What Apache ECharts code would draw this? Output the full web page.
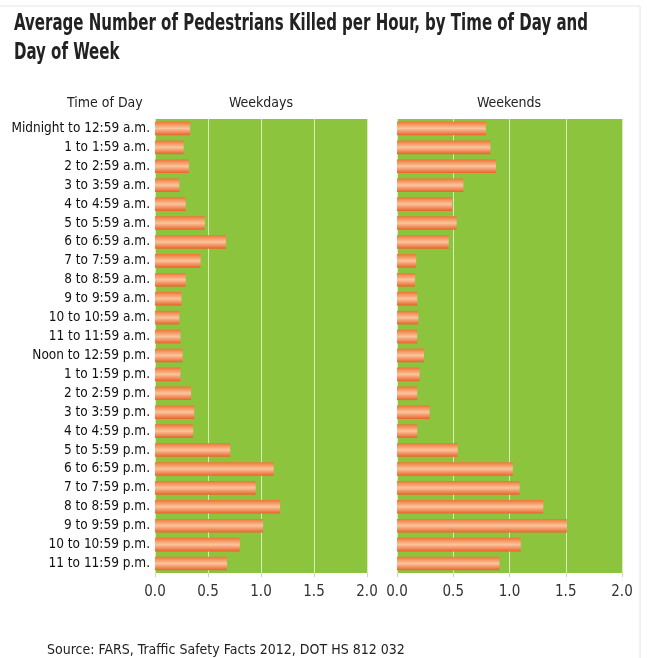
<!DOCTYPE html>
<html>
<head>
<meta charset="utf-8">
<script src="https://cdn.jsdelivr.net/npm/echarts@6/dist/echarts.min.js"></script>
<style>
  html, body { margin: 0; padding: 0; background: #fff; }
  #chart { width: 647px; height: 658px; }
</style>
</head>
<body>
<div id="chart"></div>
<script>
var horas = ['Midnight to 12:59 a.m.', '1 to 1:59 a.m.', '2 to 2:59 a.m.', '3 to 3:59 a.m.', '4 to 4:59 a.m.',
    '5 to 5:59 a.m.', '6 to 6:59 a.m.', '7 to 7:59 a.m.', '8 to 8:59 a.m.', '9 to 9:59 a.m.',
    '10 to 10:59 a.m.', '11 to 11:59 a.m.', 'Noon to 12:59 p.m.', '1 to 1:59 p.m.', '2 to 2:59 p.m.',
    '3 to 3:59 p.m.', '4 to 4:59 p.m.', '5 to 5:59 p.m.', '6 to 6:59 p.m.', '7 to 7:59 p.m.',
    '8 to 8:59 p.m.', '9 to 9:59 p.m.', '10 to 10:59 p.m.', '11 to 11:59 p.m.'];
var weekdays = [0.33, 0.27, 0.32, 0.23, 0.29, 0.47, 0.67, 0.43, 0.29, 0.25, 0.23, 0.24,
    0.26, 0.24, 0.34, 0.37, 0.36, 0.71, 1.12, 0.95, 1.18, 1.02, 0.80, 0.68];
var weekends = [0.79, 0.83, 0.88, 0.59, 0.49, 0.53, 0.46, 0.17, 0.16, 0.18, 0.19, 0.18,
    0.24, 0.20, 0.18, 0.29, 0.18, 0.54, 1.03, 1.09, 1.30, 1.51, 1.10, 0.91];
var ticksX = [0, 0.5, 1, 1.5, 2];

var titulo1 = 'Average Number of Pedestrians Killed per Hour, by Time of Day and';
var titulo2 = 'Day of Week';
var fuente = '"Liberation Sans Narrow", "DejaVu Sans Condensed", "Roboto Condensed", "Liberation Sans", sans-serif';

// ancho del titulo para comprimirlo como la fuente condensada del original
var cv = document.createElement('canvas').getContext('2d');
cv.font = 'bold 23px ' + fuente;
var escala = 574 / cv.measureText(titulo1).width;

var barra = {
    type: 'linear', x: 0, y: 0, x2: 0, y2: 1,
    colorStops: [
        {offset: 0, color: '#ee7535'},
        {offset: 0.5, color: '#fbc49c'},
        {offset: 1, color: '#e8622a'}
    ]
};

function ejeX(idx) {
    return {
        type: 'value', gridIndex: idx, min: 0, max: 2, interval: 0.5,
        axisLine: {show: false},
        axisTick: {show: true, length: 4, lineStyle: {color: '#c8d8b0'}},
        splitLine: {show: true, lineStyle: {color: '#d8ecb8', width: 1}},
        axisLabel: {
            color: '#333', fontSize: 15, fontFamily: fuente, margin: 12,
            formatter: function (v) { return v.toFixed(1); }
        }
    };
}

function ejeY(idx, mostrar) {
    return {
        type: 'category', gridIndex: idx, data: horas, inverse: true,
        axisLine: {show: false}, axisTick: {show: false},
        axisLabel: {show: mostrar, color: '#111', fontSize: 13.5, fontFamily: fuente, margin: 5}
    };
}

function serie(idx, datos) {
    return {
        type: 'bar', xAxisIndex: idx, yAxisIndex: idx, data: datos,
        barCategoryGap: '28%',
        itemStyle: {color: barra},
        silent: true
    };
}

function texto(t, x, y, tam, peso, alin) {
    return {
        type: 'text', x: x, y: y,
        style: {text: t, fill: '#222', font: peso + ' ' + tam + 'px ' + fuente, textAlign: alin || 'left', textVerticalAlign: 'middle'}
    };
}

var chart = echarts.init(document.getElementById('chart'));
chart.setOption({
    animation: false,
    backgroundColor: '#fff',
    grid: [
        {left: 155, width: 212, top: 119, height: 454, show: true, backgroundColor: '#8cc43e', borderWidth: 0},
        {left: 397, width: 225, top: 119, height: 454, show: true, backgroundColor: '#8cc43e', borderWidth: 0}
    ],
    xAxis: [ejeX(0), ejeX(1)],
    yAxis: [ejeY(0, true), ejeY(1, false)],
    series: [serie(0, weekdays), serie(1, weekends)],
    graphic: [
        {type: 'line', shape: {x1: 0, y1: 6, x2: 640, y2: 6}, style: {stroke: '#e4e4e4', lineWidth: 1}},
        {type: 'line', shape: {x1: 640, y1: 6, x2: 640, y2: 658}, style: {stroke: '#e4e4e4', lineWidth: 1}},
        {type: 'group', x: 14, y: 0, scaleX: escala, children: [
            texto(titulo1, 0, 24, 23, 'bold'),
            texto(titulo2, 0, 53, 23, 'bold')
        ]},
        texto('Time of Day', 67, 103, 14, 'normal'),
        texto('Weekdays', 261, 103, 14, 'normal', 'center'),
        texto('Weekends', 509, 103, 14, 'normal', 'center'),
        texto('Source: FARS, Traffic Safety Facts 2012, DOT HS 812 032', 47, 650, 14, 'normal')
    ]
});
</script>
</body>
</html>
